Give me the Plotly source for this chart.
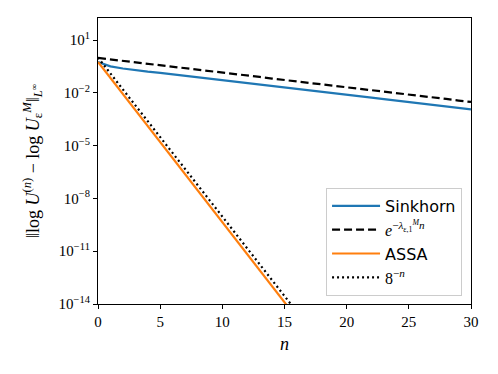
import plotly.graph_objects as go

# iterations
n_sinkhorn = list(range(0, 31))
# log10 of Sinkhorn error
log_sinkhorn = [-0.25, -0.50, -0.62, -0.72, -0.80, -0.87, -0.95, -1.03, -1.11, -1.19,
                -1.27, -1.36, -1.44, -1.52, -1.61, -1.69, -1.77, -1.86, -1.94, -2.02,
                -2.11, -2.19, -2.27, -2.36, -2.44, -2.52, -2.61, -2.69, -2.77, -2.86, -2.94]
# log10 of exp(-lambda n) bound
log_bound = [-0.02, -0.10, -0.19, -0.27, -0.35, -0.44, -0.52, -0.60, -0.69, -0.77,
             -0.85, -0.94, -1.02, -1.10, -1.19, -1.27, -1.35, -1.44, -1.52, -1.60,
             -1.69, -1.77, -1.85, -1.94, -2.02, -2.10, -2.19, -2.27, -2.35, -2.44, -2.52]
n_assa = list(range(0, 17))
log_assa = [-0.25, -1.16, -2.07, -2.98, -3.89, -4.80, -5.71, -6.62, -7.53, -8.44,
            -9.35, -10.26, -11.17, -12.08, -12.99, -13.90, -14.81]
log_eight = [0.0, -0.90, -1.81, -2.71, -3.61, -4.52, -5.42, -6.32, -7.22, -8.13,
             -9.03, -9.93, -10.84, -11.74, -12.64, -13.55, -14.45]

ytick_exp = [1, -2, -5, -8, -11, -14]
xtick_vals = [0, 5, 10, 15, 20, 25, 30]

serif = "Liberation Serif"
sans = "DejaVu Sans"

fig = go.Figure()
fig.add_trace(go.Scatter(x=n_sinkhorn, y=[10**v for v in log_sinkhorn], mode="lines",
                         line=dict(color="#1f77b4", width=2.2),
                         name=f"<span style='font-family:{sans}'>Sinkhorn</span>"))
fig.add_trace(go.Scatter(x=n_sinkhorn, y=[10**v for v in log_bound], mode="lines",
                         line=dict(color="black", width=2.2, dash="8px,4px"),
                         name="<i>e</i><sup>−<i>λ</i><sub>ε,1</sub><sup><i>M</i></sup><i>n</i></sup>"))
fig.add_trace(go.Scatter(x=n_assa, y=[10**v for v in log_assa], mode="lines",
                         line=dict(color="#ff7f0e", width=2.2),
                         name=f"<span style='font-family:{sans}'>ASSA</span>"))
fig.add_trace(go.Scatter(x=n_assa, y=[10**v for v in log_eight], mode="lines",
                         line=dict(color="black", width=2.2, dash="2px,3px"),
                         name="8<sup>−<i>n</i></sup>"))

fig.update_layout(
    width=490, height=366,
    margin=dict(l=90, r=27, t=10, b=70, autoexpand=False),
    paper_bgcolor="white", plot_bgcolor="white",
    font=dict(family=serif, size=15, color="black"),
    showlegend=True,
    legend=dict(x=0.976, y=0.028, xanchor="right", yanchor="bottom",
                bgcolor="white", bordercolor="#cccccc", borderwidth=1,
                itemwidth=48,
                font=dict(size=16, family=serif), tracegroupgap=2),
    xaxis=dict(range=[0, 30], tickvals=xtick_vals, showgrid=False, zeroline=False,
               showline=True, linecolor="black", linewidth=1.2, mirror=True,
               ticks="outside", ticklen=4, tickcolor="black",
               title=dict(text="<i>n</i>", standoff=8)),
    yaxis=dict(type="log", range=[-14, 2.25],
               tickvals=[10**e for e in ytick_exp],
               ticktext=[f"10<sup>{str(e).replace('-', '−')}</sup>" for e in ytick_exp],
               showgrid=False, zeroline=False,
               showline=True, linecolor="black", linewidth=1.2, mirror=True,
               ticks="outside", ticklen=4, tickcolor="black",
               title=dict(text="‖log <i>U</i><sup>(<i>n</i>)</sup> − log <i>U</i><sub>ε</sub><sup><i>M</i></sup>‖<sub><i>L</i><sup>∞</sup></sub>",
                          standoff=14)),
)

fig.write_html("out.html")
